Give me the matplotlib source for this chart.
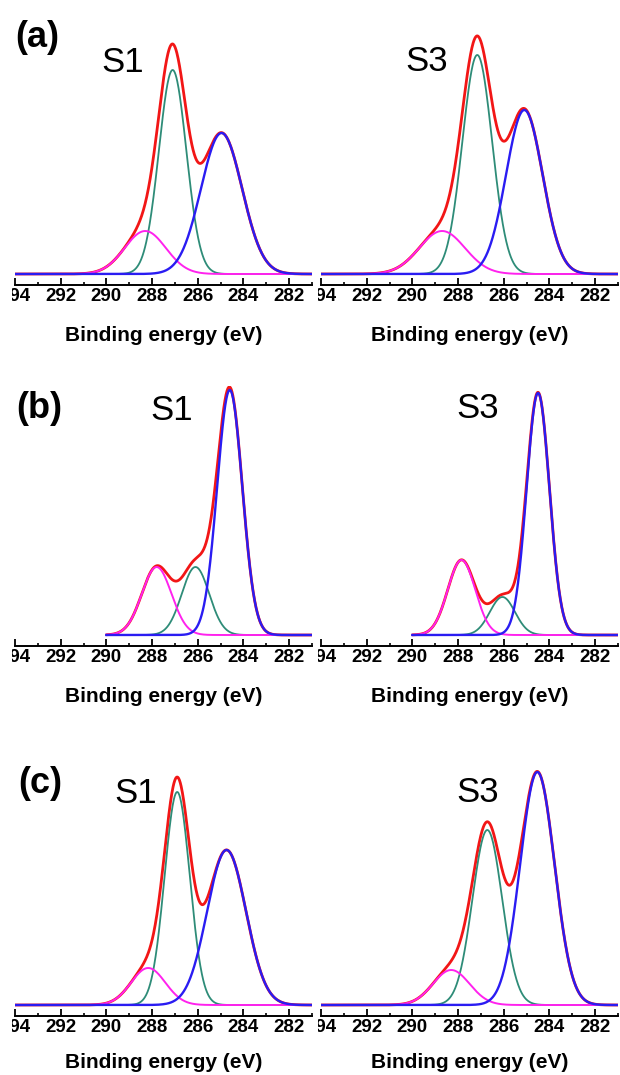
import numpy as np
import matplotlib
matplotlib.use("Agg")
import matplotlib.pyplot as plt
from matplotlib.ticker import MultipleLocator
from matplotlib.transforms import Bbox, TransformedBbox

plt.rcParams['font.family'] = ['Liberation Sans', 'DejaVu Sans']

# ---------------- data ----------------
rows = ['(a)', '(b)', '(c)']
samples = ['S1', 'S3']
components = ['C-C', 'C-O', 'O-C=O']          # blue, teal, magenta
scan_start = [294, 290, 294]                   # eV, where each row's spectrum starts
scan_end = 281

# peak centres (eV)   [row][sample][component]
centres = [
    [[284.96, 287.10, 288.30], [285.10, 287.16, 288.70]],
    [[284.60, 286.10, 287.80], [284.50, 286.06, 287.85]],
    [[284.74, 286.90, 288.17], [284.53, 286.72, 288.30]],
]
# peak heights (a.u.)
heights = [
    [[141, 204, 43], [164, 219, 43]],
    [[245, 68, 68], [242, 38, 75]],
    [[155, 213, 37], [233, 175, 35]],
]
# gaussian widths sigma (eV)
sigmas = [
    [[0.90, 0.60, 0.90], [0.80, 0.65, 1.00]],
    [[0.55, 0.60, 0.65], [0.50, 0.55, 0.60]],
    [[0.85, 0.55, 0.75], [0.75, 0.65, 0.80]],
]

xticks = [294, 292, 290, 288, 286, 284, 282]
xlabel = 'Binding energy (eV)'

# ---------------- styles ----------------
W, H = 620, 1075
comp_colors = ['#2a1cf2', '#2e8c78', '#ff22ee']
comp_lw = [1.7, 1.3, 1.4]
fit_color = '#f21616'

fig = plt.figure(figsize=(W / 100, H / 100), dpi=100)


def fx(x):
    return x / W


def fy(y):
    return 1 - y / H


spine_y = [285, 646, 1016]
xlabel_gap = [41, 41, 37]
ax_h = 260
ax_left = [15, 321]
ax_w = 297
label_pos = [(37.5, 47), (39, 418), (40.5, 793)]
s_pos = [[(123, 72), (427, 71)], [(172, 420), (478, 418)], [(136, 803), (478, 802)]]


def gauss(x, c, h, s):
    return h * np.exp(-(x - c) ** 2 / (2 * s ** 2))


for r in range(3):
    for si in range(2):
        ax = fig.add_axes([fx(ax_left[si]), fy(spine_y[r]), ax_w / W, ax_h / H])
        ax.set_xlim(294, 281)
        ax.set_ylim(-11, ax_h - 11)
        ax.patch.set_alpha(0)
        for sp in ['left', 'right', 'top']:
            ax.spines[sp].set_visible(False)
        ax.spines['bottom'].set_linewidth(1.4)
        ax.set_yticks([])
        ax.set_xticks(xticks)
        ax.set_xticklabels([str(t) for t in xticks])
        ax.xaxis.set_minor_locator(MultipleLocator(1))
        ax.tick_params(axis='x', which='major', direction='in', length=5, width=1.3,
                       pad=2.5, labelsize=13.5)
        ax.tick_params(axis='x', which='minor', direction='in', length=2.5, width=1.2)
        for lab in ax.get_xticklabels():
            lab.set_fontweight('bold')
            clip = Bbox.from_extents(fx(ax_left[si] - 3), 0, fx(ax_left[si] + ax_w + 6), 1)
            lab.set_clip_box(TransformedBbox(clip, fig.transFigure))
            lab.set_clip_on(True)
        ax.set_xlabel(xlabel, fontsize=15, fontweight='bold')
        ax.xaxis.set_label_coords(0.5, -xlabel_gap[r] / ax_h)

        x = np.linspace(scan_start[r], scan_end, 700)
        comps = [gauss(x, centres[r][si][k], heights[r][si][k], sigmas[r][si][k])
                 for k in range(3)]
        total = sum(comps)
        ax.plot(x, total, color=fit_color, lw=2.0, zorder=2, solid_capstyle='round')
        for k in [1, 2, 0]:
            ax.plot(x, comps[k], color=comp_colors[k], lw=comp_lw[k], zorder=3)

        fig.text(fx(s_pos[r][si][0]), fy(s_pos[r][si][1]), samples[si], fontsize=25,
                 ha='center', va='baseline')
    fig.text(fx(label_pos[r][0]), fy(label_pos[r][1]), rows[r], fontsize=26,
             fontweight='bold', ha='center', va='baseline')

fig.savefig('out.png', dpi=100)
